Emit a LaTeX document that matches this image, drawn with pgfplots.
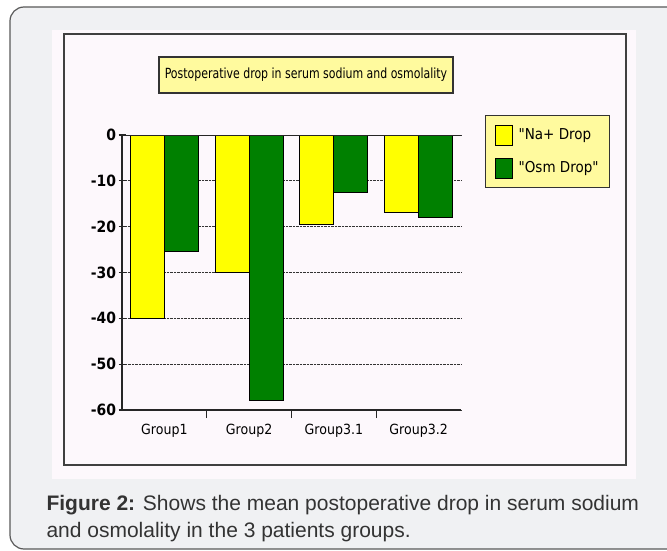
\documentclass[border=0pt]{standalone}
\usepackage{pgfplots}
\pgfplotsset{compat=1.18}
\usepackage{fontspec}
\setmainfont{Liberation Sans}
\newfontfamily\chartfont{DejaVu Sans Condensed}
\definecolor{outerbg}{HTML}{F0F1F3}
\definecolor{innerbg}{HTML}{FDF8FC}
\definecolor{boxyellow}{HTML}{FFFA9E}
\definecolor{nayellow}{HTML}{FFFF00}
\definecolor{osmgreen}{HTML}{008000}
\begin{document}
\begin{tikzpicture}[x=1pt,y=1pt]
\useasboundingbox (0,0) rectangle (667,550);
\clip (0,0) rectangle (667,550);
\draw[draw=black!65, line width=1.2pt, fill=outerbg, rounded corners=14pt] (10,1) rectangle (720,543);
\fill[innerbg] (52,71) rectangle (636,520);
\draw[black!75, line width=1.5pt] (64,85) rectangle (626,516);
\draw[black!80, line width=1.2pt, fill=boxyellow] (159,457) rectangle (453,493);
\node[font=\chartfont\fontsize{14}{16}\selectfont] at (306,475) {\scalebox{0.87}[1]{Postoperative drop in serum sodium and osmolality}};
\begin{axis}[at={(122pt,140pt)}, anchor=south west, scale only axis,
  width=339pt, height=275pt,
  xmin=-0.5, xmax=3.5, ymin=-60, ymax=0,
  ybar=0pt, bar width=34pt,
  axis x line*=bottom, axis y line*=left,
  axis line style={black!85, line width=1.2pt},
  xtick={0,1,2,3},
  xticklabels={Group1,Group2,Group3.1,Group3.2},
  major x tick style={draw=none},
  minor xtick={0.5,1.5,2.5},
  minor tick length=8pt,
  minor x tick style={black!85, line width=1.2pt, yshift=-4pt},
  tick align=center,
  ytick={-60,-50,-40,-30,-20,-10,0},
  yticklabels={-60,-50,-40,-30,-20,-10,0},
  major tick length=7pt,
  major y tick style={black!85, line width=1.2pt},
  ymajorgrids,
  grid style={densely dotted, black!80, line width=0.9pt},
  yticklabel style={font=\chartfont\bfseries\fontsize{15.5}{17}\selectfont, xshift=1pt},
  xticklabel style={font=\chartfont\fontsize{14}{16}\selectfont, yshift=-7pt},
  legend style={at={(1.071,1.073)}, anchor=north west, fill=boxyellow,
    draw=black!80, line width=1.2pt, inner xsep=9pt, inner ysep=9pt,
    font=\chartfont\fontsize{15}{17}\selectfont, row sep=12pt},
  legend cell align=left,
  legend image code/.code={\draw[#1, draw=black, line width=1pt] (0pt,-10pt) rectangle (17pt,10pt); \path (21pt,0pt);},
]
\addplot[fill=nayellow, draw=black, line width=1pt] coordinates {(0,-40) (1,-30) (2,-19.5) (3,-17)};
\addplot[fill=osmgreen, draw=black, line width=1pt] coordinates {(0,-25.5) (1,-58) (2,-12.5) (3,-18)};
\legend{{"Na+ Drop},{"Osm Drop"}}
\draw[black!85, line width=1.2pt] (axis cs:-0.5,0) -- (axis cs:3.5,0);
\end{axis}
\node[anchor=base west, font=\fontsize{21}{24}\selectfont, text=black!80] at (43,40) {\textbf{Figure 2:} Shows the mean postoperative drop in serum sodium};
\node[anchor=base west, font=\fontsize{21}{24}\selectfont, text=black!80] at (43,13) {and osmolality in the 3 patients groups.};
\end{tikzpicture}
\end{document}
